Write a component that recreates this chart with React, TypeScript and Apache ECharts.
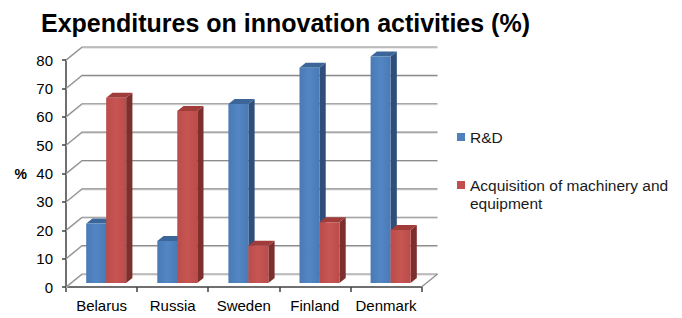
import React, { useEffect, useRef } from "react";
import * as echarts from "echarts";

const categories = ["Belarus", "Russia", "Sweden", "Finland", "Denmark"];
const rdValues = [21.0, 14.8, 63.1, 75.9, 79.8];
const machineryValues = [65.3, 60.6, 13.1, 21.4, 18.7];
const seriesNames = ["R&D", "Acquisition of machinery and equipment"];
const yTicks = [0, 10, 20, 30, 40, 50, 60, 70, 80];

const WALL_DX = 16;
const WALL_DY = 13;

const FONT = "'Liberation Sans', Arial, sans-serif";

function makeBarRenderer(side: "left" | "right", colors: { front: string; frontLight: string; side: string; top: string }) {
  return (params: any, api: any) => {
    const idx = api.value(0);
    const v = api.value(1);
    const top = api.coord([idx, v]);
    const base = api.coord([idx, 0]);
    const band = api.size([1, 0])[0];
    const bw = band * 0.281;
    const shiftX = band * 0.065;
    const shiftY = 4;
    const sx = band * 0.088;
    const sy = 5;
    const left = side === "left" ? top[0] - bw + shiftX : top[0] + shiftX;
    const right = left + bw;
    const yTop = top[1] - shiftY;
    const yBase = base[1] - shiftY;
    return {
      type: "group",
      children: [
        {
          type: "polygon",
          shape: { points: [[right, yTop], [right + sx, yTop - sy], [right + sx, yBase - sy], [right, yBase]] },
          style: { fill: colors.side },
        },
        {
          type: "polygon",
          shape: { points: [[left, yTop], [left + sx, yTop - sy], [right + sx, yTop - sy], [right, yTop]] },
          style: { fill: colors.top },
        },
        {
          type: "rect",
          shape: { x: left, y: yTop, width: bw, height: yBase - yTop },
          style: {
            fill: new echarts.graphic.LinearGradient(0, 0, 1, 0, [
              { offset: 0, color: colors.front },
              { offset: 0.5, color: colors.frontLight },
              { offset: 1, color: colors.front },
            ]),
          },
        },
      ],
    };
  };
}

function wallRenderer(params: any, api: any) {
  const v = api.value(1);
  const cs = params.coordSys;
  const p = api.coord([0, v]);
  const y = p[1];
  const left = cs.x;
  const right = cs.x + cs.width;
  const children: any[] = [
    {
      type: "polyline",
      shape: { points: [[left, y + 1], [left + WALL_DX, y - WALL_DY + 1], [right + WALL_DX, y - WALL_DY + 1]] },
      style: { stroke: "#d6d6d6", lineWidth: 1, fill: "none" },
    },
    {
      type: "polyline",
      shape: { points: [[left, y], [left + WALL_DX, y - WALL_DY], [right + WALL_DX, y - WALL_DY]] },
      style: { stroke: "#8c8c8c", lineWidth: 1.2, fill: "none" },
    },
  ];
  if (v === 0) {
    children.push({
      type: "line",
      shape: { x1: right, y1: y, x2: right + WALL_DX, y2: y - WALL_DY },
      style: { stroke: "#8c8c8c", lineWidth: 1.2 },
    });
  }
  return { type: "group", children };
}

export default function App() {
  const ref = useRef<HTMLDivElement>(null);
  useEffect(() => {
    if (!ref.current) return;
    const chart = echarts.init(ref.current, undefined, { renderer: "svg" });
    chart.setOption({
      animation: false,
      backgroundColor: "#ffffff",
      title: {
        text: "Expenditures on innovation activities (%)",
        left: 36,
        top: 5,
        textStyle: { fontFamily: FONT, fontWeight: "bold", fontSize: 25, color: "#000" },
      },
      legend: {
        orient: "vertical",
        left: 452,
        top: 123,
        itemWidth: 8,
        itemHeight: 8,
        itemGap: 12,
        icon: "rect",
        data: seriesNames,
        formatter: (name: string) =>
          name === seriesNames[1] ? "\nAcquisition of machinery and\nequipment" : name,
        textStyle: { fontFamily: FONT, fontSize: 15.5, color: "#1a1a1a", lineHeight: 18 },
      },
      grid: { left: 66, top: 60, right: 260.5, bottom: 31 },
      xAxis: {
        type: "category",
        data: categories,
        boundaryGap: true,
        axisLine: { lineStyle: { color: "#404040", width: 1.5 } },
        axisTick: { show: true, length: 5, lineStyle: { color: "#404040", width: 1.5 } },
        axisLabel: { interval: 0, fontFamily: FONT, fontSize: 15, color: "#000", margin: 11 },
      },
      yAxis: {
        type: "value",
        min: 0,
        max: 80,
        interval: 10,
        name: "%",
        nameLocation: "middle",
        nameRotate: 0,
        nameGap: 39,
        nameTextStyle: { fontFamily: FONT, fontSize: 14, fontWeight: "bold", color: "#000" },
        axisLine: { show: true, lineStyle: { color: "#404040", width: 1.5 } },
        axisTick: { show: true, length: 4, lineStyle: { color: "#404040", width: 1.5 } },
        axisLabel: { fontFamily: FONT, fontSize: 15, color: "#000", margin: 13 },
        splitLine: { show: false },
      },
      series: [
        {
          type: "custom",
          name: "wall",
          silent: true,
          renderItem: wallRenderer,
          data: yTicks.map((t) => [0, t]),
          z: 1,
        },
        {
          type: "custom",
          name: seriesNames[0],
          itemStyle: { color: "#4f81bd" },
          renderItem: makeBarRenderer("left", { front: "#4a7ab5", frontLight: "#5286c4", side: "#2f4f7a", top: "#3c6699" }),
          data: rdValues.map((v, i) => [i, v]),
          z: 2,
        },
        {
          type: "custom",
          name: seriesNames[1],
          itemStyle: { color: "#c0504d" },
          renderItem: makeBarRenderer("right", { front: "#bb4c49", frontLight: "#c75653", side: "#7d2f2d", top: "#a03d3a" }),
          data: machineryValues.map((v, i) => [i, v]),
          z: 3,
        },
      ],
    });
    return () => chart.dispose();
  }, []);
  return <div ref={ref} style={{ position: "fixed", left: 0, top: 0, width: 682, height: 318 }} />;
}
